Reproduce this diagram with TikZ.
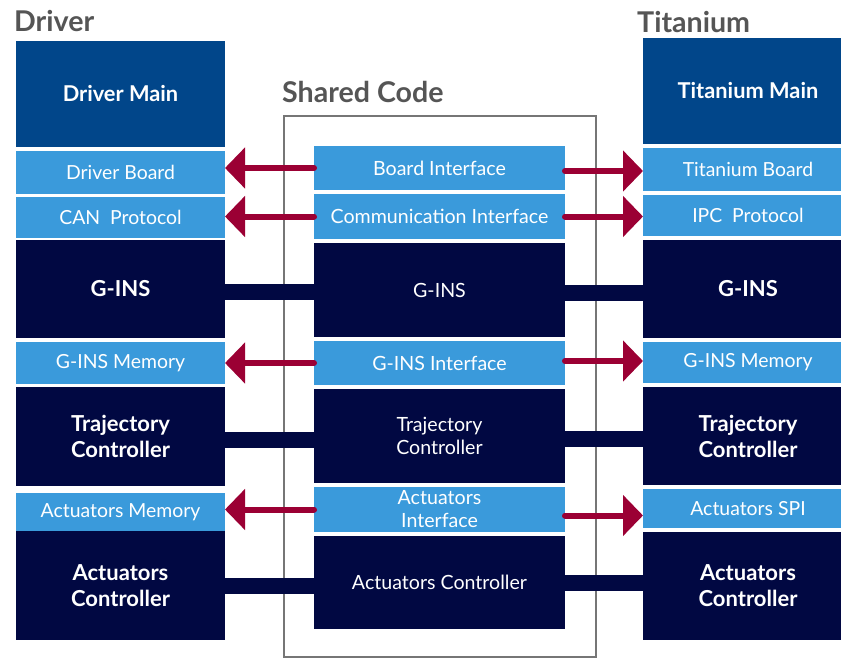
\documentclass[tikz,border=0pt]{standalone}
\usepackage{fontspec}
\setmainfont{Lato}
\usetikzlibrary{arrows.meta,backgrounds}
\definecolor{mainblue}{HTML}{01468A}
\definecolor{lightblue}{HTML}{3A9ADB}
\definecolor{navy}{HTML}{010842}
\definecolor{crimson}{HTML}{9B0034}
\definecolor{framegray}{HTML}{767676}
\definecolor{titlegray}{HTML}{555555}
\begin{document}
\begin{tikzpicture}[x=1pt,y=-1pt,
  blk/.style={anchor=north west, inner sep=0pt, outer sep=0pt, align=center, text=white},
  mainblk/.style={blk, fill=mainblue, font=\bfseries\fontsize{21.8}{26}\selectfont},
  lightblk/.style={blk, fill=lightblue, font=\fontsize{19.4}{23}\selectfont},
  navyblk/.style={blk, fill=navy, font=\bfseries\fontsize{22}{26}\selectfont},
  midnavy/.style={blk, fill=navy, font=\fontsize{19.6}{23}\selectfont},
  midlight/.style={lightblk, font=\fontsize{19.6}{23}\selectfont},
  title/.style={anchor=base west, inner sep=0pt, text=titlegray, font=\bfseries\fontsize{28.6}{32}\selectfont},
  frame/.style={anchor=north west, inner sep=0pt, outer sep=0pt, draw=framegray, line width=2pt},
  link/.style={draw=navy, line width=16pt},
  arr/.style={draw=crimson, line width=6pt, line cap=round, -{Triangle[length=20pt,width=40pt]}}
]
\useasboundingbox (0,0) rectangle (841,658);

% column titles
\node[title] (tdrv) at (14,32) {Driver};
\node[title] (ttit) at (637,33) {Titanium};
\node[title] (tshr) at (282,103) {Shared Code};

% Driver stack
\node[mainblk,  minimum width=209pt, minimum height=106pt] (dm)  at (16,41)  {Driver Main};
\node[lightblk, minimum width=209pt, minimum height=43pt]  (db)  at (16,151) {Driver Board};
\node[lightblk, minimum width=209pt, minimum height=41pt]  (cp)  at (16,197) {CAN\ \ Protocol};
\node[navyblk,  minimum width=209pt, minimum height=98pt]  (lg)  at (16,240) {G-INS};
\node[lightblk, minimum width=209pt, minimum height=42pt]  (lgm) at (16,342) {G-INS Memory};
\node[navyblk,  minimum width=209pt, minimum height=99pt]  (lt)  at (16,387) {Trajectory\\Controller};
\node[lightblk, minimum width=209pt, minimum height=38pt]  (lam) at (16,493) {Actuators Memory};
\node[navyblk,  minimum width=209pt, minimum height=109pt] (lac) at (16,531) {Actuators\\Controller};

% Shared code stack
\node[midlight, minimum width=251pt, minimum height=44pt] (bi)  at (314,146) {Board Interface};
\node[midlight, minimum width=251pt, minimum height=45pt] (ci)  at (314,194) {Communication Interface};
\node[midnavy,  minimum width=251pt, minimum height=94pt] (mg)  at (314,243) {G-INS};
\node[midlight, minimum width=251pt, minimum height=44pt] (gi)  at (314,341) {G-INS Interface};
\node[midnavy,  minimum width=251pt, minimum height=94pt] (mt)  at (314,389) {Trajectory\\Controller};
\node[midlight, minimum width=251pt, minimum height=45pt] (ai)  at (314,487) {Actuators\\Interface};
\node[midnavy,  minimum width=251pt, minimum height=93pt] (mac) at (314,536) {Actuators Controller};

% Titanium stack (runs past the right page edge)
\node[mainblk,  minimum width=210pt, minimum height=106pt] (tm)  at (643,38)  {Titanium Main};
\node[lightblk, minimum width=210pt, minimum height=43pt]  (tb)  at (643,148) {Titanium Board};
\node[lightblk, minimum width=210pt, minimum height=41pt]  (ip)  at (643,195) {IPC\ \ Protocol};
\node[navyblk,  minimum width=210pt, minimum height=98pt]  (rg)  at (643,240) {G-INS};
\node[lightblk, minimum width=210pt, minimum height=41pt]  (rgm) at (643,342) {G-INS Memory};
\node[navyblk,  minimum width=210pt, minimum height=98pt]  (rt)  at (643,387) {Trajectory\\Controller};
\node[lightblk, minimum width=210pt, minimum height=39pt]  (ras) at (643,489) {Actuators SPI};
\node[navyblk,  minimum width=210pt, minimum height=108pt] (rac) at (643,532) {Actuators\\Controller};

% frame and links between the stacks
\begin{pgfonlayer}{background}
  \node[frame, minimum width=312pt, minimum height=541pt] (shared) at (284,116) {};
  \draw[link] ([yshift=-3pt]lg.east) -- ([yshift=-3pt]lg.east -| mg.west);
  \draw[link] ([yshift=-3pt]mg.east) -- ([yshift=-3pt]mg.east -| rg.west);
  \draw[link] ([yshift=-3pt]lt.east) -- ([yshift=-3pt]lt.east -| mt.west);
  \draw[link] ([yshift=-3pt]mt.east) -- ([yshift=-3pt]mt.east -| rt.west);
  \draw[link] (lac.east) -- (lac.east -| mac.west);
  \draw[link] (mac.east) -- (mac.east -| rac.west);
\end{pgfonlayer}

% interface arrows
\draw[arr] (bi.west) -- (bi.west -| db.east);
\draw[arr] ([yshift=-3pt]bi.east) -- ([yshift=-3pt]bi.east -| tb.west);
\draw[arr] (ci.west) -- (ci.west -| cp.east);
\draw[arr] (ci.east) -- (ci.east -| ip.west);
\draw[arr] (gi.west) -- (gi.west -| lgm.east);
\draw[arr] ([yshift=2pt]gi.east) -- ([yshift=2pt]gi.east -| rgm.west);
\draw[arr] (ai.west) -- (ai.west -| lam.east);
\draw[arr] ([yshift=-6pt]ai.east) -- ([yshift=-6pt]ai.east -| ras.west);
\end{tikzpicture}
\end{document}
